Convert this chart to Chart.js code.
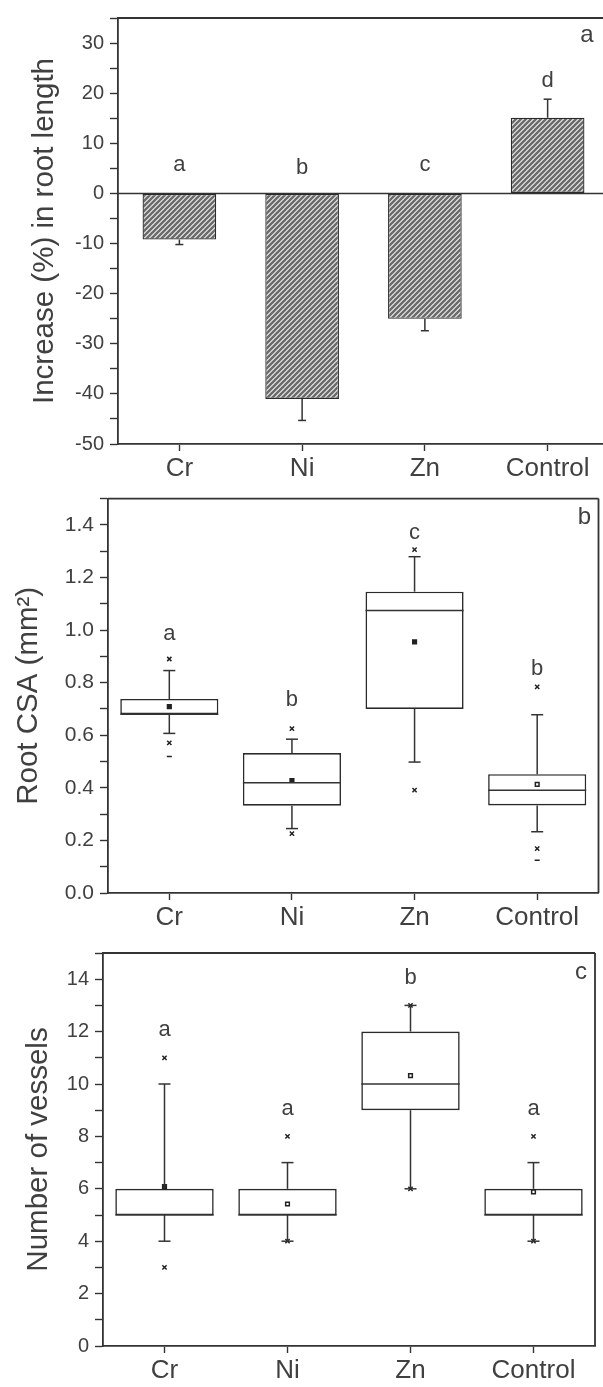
<!DOCTYPE html>
<html><head><meta charset="utf-8">
<script src="https://cdn.jsdelivr.net/npm/chart.js@4.4.1/dist/chart.umd.min.js"></script>
<style>
html,body{margin:0;padding:0;background:#fff;width:603px;height:1387px;overflow:hidden}
.p{position:absolute;left:0;width:603px;overflow:hidden}
canvas{display:block}
</style></head><body>
<div class="p" style="top:0;height:480px"><canvas id="ca" width="612" height="480"></canvas></div>
<div class="p" style="top:480px;height:455px"><canvas id="cb" width="603" height="455"></canvas></div>
<div class="p" style="top:935px;height:452px"><canvas id="cc" width="603" height="452"></canvas></div>
<script>
// ---------------- data ----------------
const categories = ['Cr', 'Ni', 'Zn', 'Control'];

// panel a: increase (%) in root length
const rootLengthIncrease = [-9.2, -41, -25, 15.1];
const rootLengthErrorEnd = [-10.2, -45.3, -27.4, 18.8];
const rootLengthLetters = ['a', 'b', 'c', 'd'];
const rootLengthLetterY = [5.6, 5.0, 5.6, 22.5];
const rootLengthTickLabels = ['-50', '-40', '-30', '-20', '-10', '0', '10', '20', '30'];

// panel b: root CSA (mm2)
const csaQ1 = [0.68, 0.332, 0.70, 0.333];
const csaQ3 = [0.738, 0.532, 1.146, 0.452];
const csaMedian = [0.68, 0.419, 1.074, 0.391];
const csaMean = [0.709, 0.428, 0.955, 0.413];
const csaWhiskerLow = [0.607, 0.245, 0.498, 0.233];
const csaWhiskerHigh = [0.846, 0.585, 1.279, 0.678];
const csaP99 = [0.89, 0.625, 1.306, 0.784];
const csaP1 = [0.571, 0.226, 0.391, 0.169];
const csaMin = [0.519, null, null, 0.125];
const csaLetters = ['a', 'b', 'c', 'b'];
const csaLetterY = [0.985, 0.734, 1.371, 0.854];
const csaTickLabels = ['0.0', '0.2', '0.4', '0.6', '0.8', '1.0', '1.2', '1.4'];

// panel c: number of vessels
const vesQ1 = [5, 5, 9, 5];
const vesQ3 = [6, 6, 12, 6];
const vesMedian = [5, 5, 10, 5];
const vesMean = [6.08, 5.42, 10.32, 5.88];
const vesWhiskerLow = [4, 4, 6, 4];
const vesWhiskerHigh = [10, 7, 13, 7];
const vesP99 = [11, 8, 13, 8];
const vesP1 = [3, 4, 6, 4];
const vesLetters = ['a', 'a', 'b', 'a'];
const vesLetterY = [12.06, 9.03, 14.03, 9.03];
const vesTickLabels = ['0', '2', '4', '6', '8', '10', '12', '14'];

// ---------------- styles ----------------
const FONT = '"Liberation Sans", Arial, sans-serif';
const INK = '#333';
const TXT = '#404040';

function hatchPattern(ctx) {
  const c = document.createElement('canvas');
  c.width = c.height = 5;
  const g = c.getContext('2d');
  g.fillStyle = '#eeeeee';
  g.fillRect(0, 0, 5, 5);
  g.strokeStyle = '#6a6a6a';
  g.lineWidth = 2.4;
  g.beginPath();
  g.moveTo(-1, 6); g.lineTo(6, -1);
  g.moveTo(-1, 1); g.lineTo(1, -1);
  g.moveTo(4, 6); g.lineTo(6, 4);
  g.stroke();
  return ctx.createPattern(c, 'repeat');
}

function yAxis(cfg) {
  return {
    type: 'linear', position: 'left', min: cfg.min, max: cfg.max,
    ticks: {
      stepSize: cfg.step, autoSkip: false, color: TXT, padding: 6,
      font: { family: FONT, size: cfg.tickSize || 20 },
      callback: cfg.fmt
    },
    grid: { drawOnChartArea: false, drawTicks: true, tickLength: 8, color: INK, tickColor: INK, tickWidth: 1.4 },
    border: { display: true, color: INK, width: 1.8 },
    title: { display: true, text: cfg.title, color: TXT, font: { family: FONT, size: 29.5 }, padding: { top: cfg.titlePad, bottom: 0 } },
    afterFit: s => { s.width = cfg.width; }
  };
}
function xAxis(h) {
  return {
    type: 'category', offset: true,
    ticks: { color: TXT, padding: 2, font: { family: FONT, size: 26 } },
    grid: { offset: false, drawOnChartArea: false, drawTicks: true, tickLength: 7, color: INK, tickColor: INK, tickWidth: 1.4 },
    border: { display: true, color: INK, width: 1.8 },
    afterFit: s => { s.height = h; }
  };
}

const extras = {
  id: 'extras',
  afterDatasetsDraw(chart, args, o) {
    const { ctx, chartArea: ca, scales: { x, y } } = chart;
    ctx.save();
    ctx.strokeStyle = INK;
    ctx.lineWidth = 1.5;
    const seg = (x1, y1, x2, y2) => { ctx.beginPath(); ctx.moveTo(x1, y1); ctx.lineTo(x2, y2); ctx.stroke(); };
    if (o.zeroLine) seg(ca.left, y.getPixelForValue(0), ca.right, y.getPixelForValue(0));
    if (o.errorEnd) {
      o.values.forEach((v, i) => {
        const px = x.getPixelForValue(i);
        const y0 = y.getPixelForValue(v), y1 = y.getPixelForValue(o.errorEnd[i]);
        seg(px, y0, px, y1);
        seg(px - o.capW / 2, y1, px + o.capW / 2, y1);
      });
    }
    if (o.box) {
      const meta = chart.getDatasetMeta(0);
      o.box.median.forEach((m, i) => {
        const px = x.getPixelForValue(i);
        const w = meta.data[i].width;
        seg(px - w / 2, y.getPixelForValue(m), px + w / 2, y.getPixelForValue(m));
        const yq3 = y.getPixelForValue(o.box.q3[i]), yhi = y.getPixelForValue(o.box.hi[i]);
        const yq1 = y.getPixelForValue(o.box.q1[i]), ylo = y.getPixelForValue(o.box.lo[i]);
        seg(px, yq3, px, yhi); seg(px - o.capW / 2, yhi, px + o.capW / 2, yhi);
        seg(px, yq1, px, ylo); seg(px - o.capW / 2, ylo, px + o.capW / 2, ylo);
      });
    }
    // frame
    ctx.lineWidth = 1.8;
    seg(ca.left, ca.top, ca.right, ca.top);
    seg(ca.right, ca.top, ca.right, ca.bottom);
    // letters
    ctx.fillStyle = TXT;
    ctx.textAlign = 'center';
    ctx.textBaseline = 'middle';
    ctx.font = '22px ' + FONT;
    o.letters.forEach((t, i) => ctx.fillText(t, x.getPixelForValue(i), y.getPixelForValue(o.letterY[i])));
    ctx.font = '24px ' + FONT;
    ctx.fillText(o.panel, ca.right - o.panelDx, ca.top + o.panelDy);
    ctx.restore();
  }
};

function markerSet(data, style, r, fill) {
  return {
    type: 'line', data, showLine: false, pointStyle: style, pointRadius: r, pointHoverRadius: r,
    pointBorderColor: '#222', pointBackgroundColor: fill || '#222', pointBorderWidth: 1.5, order: 0
  };
}

// ---------------- panel a ----------------
const ctxA = document.getElementById('ca').getContext('2d');
new Chart(ctxA, {
  type: 'bar',
  data: {
    labels: categories,
    datasets: [{
      data: rootLengthIncrease, backgroundColor: hatchPattern(ctxA), borderColor: '#2a2a2a',
      borderWidth: 1.3, borderSkipped: false, barPercentage: 0.6, categoryPercentage: 1
    }]
  },
  options: {
    responsive: false, animation: false, events: [],
    layout: { padding: { top: 13, right: 3, left: 0, bottom: 0 } },
    plugins: {
      legend: { display: false }, tooltip: { enabled: false },
      extras: { zeroLine: true, values: rootLengthIncrease, errorEnd: rootLengthErrorEnd, capW: 8,
        letters: rootLengthLetters, letterY: rootLengthLetterY, panel: 'a', panelDx: 22, panelDy: 17 }
    },
    scales: {
      x: xAxis(36),
      y: yAxis({ min: -50, max: 35, step: 5, width: 118, titlePad: 27, tickSize: 20,
        title: 'Increase (%) in root length',
        fmt: v => rootLengthTickLabels.includes(String(v)) ? String(v) : '' })
    }
  },
  plugins: [extras]
});

// ---------------- box panels ----------------
function boxChart(id, d) {
  const ctx = document.getElementById(id).getContext('2d');
  new Chart(ctx, {
    type: 'bar',
    data: {
      labels: categories,
      datasets: [
        { type: 'bar', data: d.q1.map((v, i) => [v, d.q3[i]]), backgroundColor: '#fff', borderColor: '#2a2a2a',
          borderWidth: 1.6, borderSkipped: false, barPercentage: 0.8, categoryPercentage: 1, order: 1 },
        markerSet(d.p99, 'crossRot', 3),
        markerSet(d.p1, 'crossRot', 3),
        markerSet(d.min || [null, null, null, null], 'line', 2.5),
        markerSet(d.mean, 'rect', 2.6, d.meanFill)
      ]
    },
    options: {
      responsive: false, animation: false, events: [],
      layout: { padding: d.pad },
      plugins: {
        legend: { display: false }, tooltip: { enabled: false },
        extras: { box: { q1: d.q1, q3: d.q3, median: d.median, lo: d.lo, hi: d.hi }, capW: 12,
          letters: d.letters, letterY: d.letterY, panel: d.panel, panelDx: 14, panelDy: 19 }
      },
      scales: {
        x: xAxis(d.xh),
        y: yAxis(d.y)
      }
    },
    plugins: [extras]
  });
}

boxChart('cb', {
  q1: csaQ1, q3: csaQ3, median: csaMedian, mean: csaMean, lo: csaWhiskerLow, hi: csaWhiskerHigh,
  p99: csaP99, p1: csaP1, min: csaMin, meanFill: ['#222', '#222', '#222', '#fff'],
  letters: csaLetters, letterY: csaLetterY, panel: 'b',
  pad: { top: 14, right: 4, left: 0, bottom: 0 }, xh: 42,
  y: { min: 0, max: 1.5, step: 0.1, width: 108, titlePad: 11, tickSize: 21, title: 'Root CSA (mm²)',
    fmt: v => { const s = v.toFixed(1); return csaTickLabels.includes(s) ? s : ''; } }
});

boxChart('cc', {
  q1: vesQ1, q3: vesQ3, median: vesMedian, mean: vesMean, lo: vesWhiskerLow, hi: vesWhiskerHigh,
  p99: vesP99, p1: vesP1, min: null, meanFill: ['#222', '#fff', '#fff', '#fff'],
  letters: vesLetters, letterY: vesLetterY, panel: 'c',
  pad: { top: 13, right: 8, left: 0, bottom: 0 }, xh: 41,
  y: { min: 0, max: 15, step: 1, width: 103, titlePad: 21, tickSize: 20, title: 'Number of vessels',
    fmt: v => vesTickLabels.includes(String(v)) ? String(v) : '' }
});
</script>
</body></html>
